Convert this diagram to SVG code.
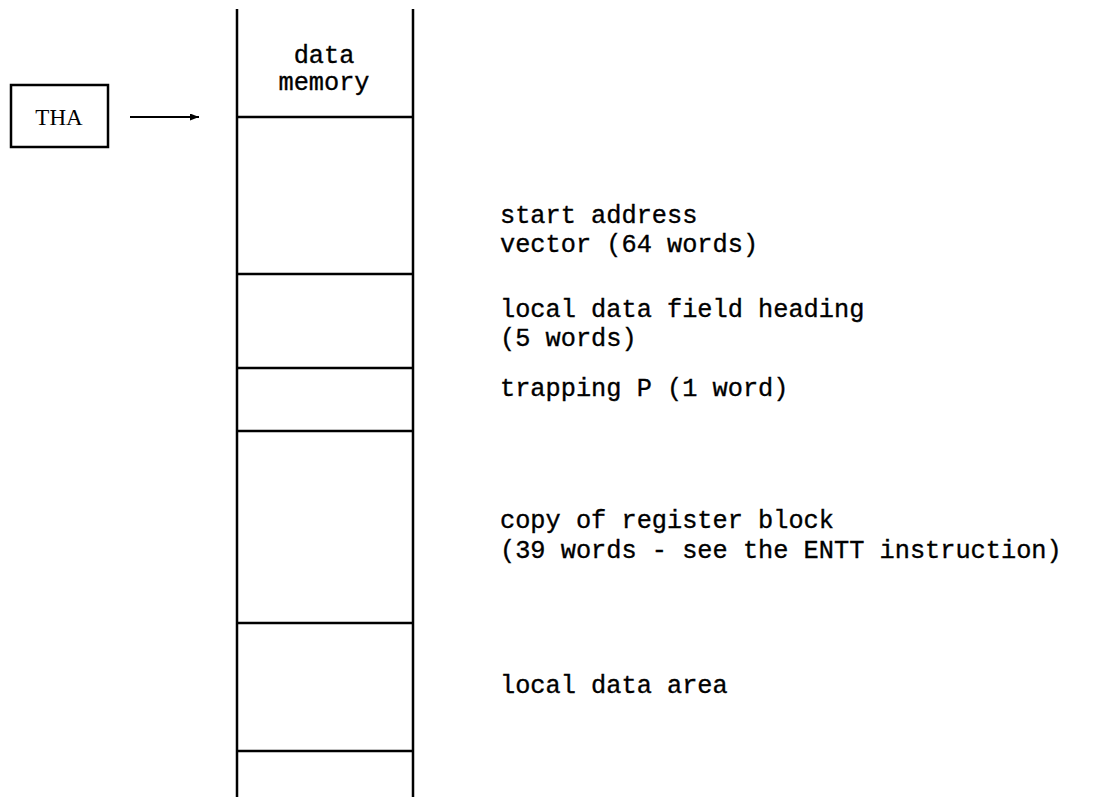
<svg xmlns="http://www.w3.org/2000/svg" width="1095" height="797" viewBox="0 0 1095 797">
<style>
.ln{stroke:#000;stroke-width:2.5;fill:none}
.t{font-family:"Liberation Mono",monospace;font-size:25.3px;fill:#000;stroke:#000;stroke-width:0.35}
.s{font-family:"Liberation Serif",serif;font-size:23px;fill:#000}
</style>
<defs>
<marker id="ah" markerWidth="9" markerHeight="7" refX="9" refY="3.5" orient="auto" markerUnits="userSpaceOnUse">
<path d="M0,0 L9,3.5 L0,7 Z" fill="#000"/>
</marker>
</defs>
<rect width="1095" height="797" fill="#fff"/>
<g id="tha">
<rect x="11" y="85" width="97" height="62" class="ln" stroke-width="2"/>
<text x="59" y="125" class="s" text-anchor="middle">THA</text>
</g>
<g id="connectors">
<line x1="130" y1="117" x2="199" y2="117" stroke="#000" stroke-width="2" marker-end="url(#ah)"/>
</g>
<g id="memory">
<line x1="237" y1="9" x2="237" y2="797" class="ln"/>
<line x1="413" y1="9" x2="413" y2="797" class="ln"/>
<line x1="237" y1="117" x2="413" y2="117" class="ln"/>
<line x1="237" y1="274" x2="413" y2="274" class="ln"/>
<line x1="237" y1="368" x2="413" y2="368" class="ln"/>
<line x1="237" y1="431" x2="413" y2="431" class="ln"/>
<line x1="237" y1="623" x2="413" y2="623" class="ln"/>
<line x1="237" y1="751" x2="413" y2="751" class="ln"/>
<text x="324" y="63" class="t" text-anchor="middle">data</text>
<text x="324" y="90" class="t" text-anchor="middle">memory</text>
</g>
<g id="labels">
<text x="500" y="223" class="t">start address</text>
<text x="500" y="252" class="t">vector (64 words)</text>
<text x="500" y="317" class="t">local data field heading</text>
<text x="500" y="346" class="t">(5 words)</text>
<text x="500" y="396" class="t">trapping P (1 word)</text>
<text x="500" y="528" class="t">copy of register block</text>
<text x="500" y="558" class="t">(39 words - see the ENTT instruction)</text>
<text x="500" y="693" class="t">local data area</text>
</g>
</svg>
